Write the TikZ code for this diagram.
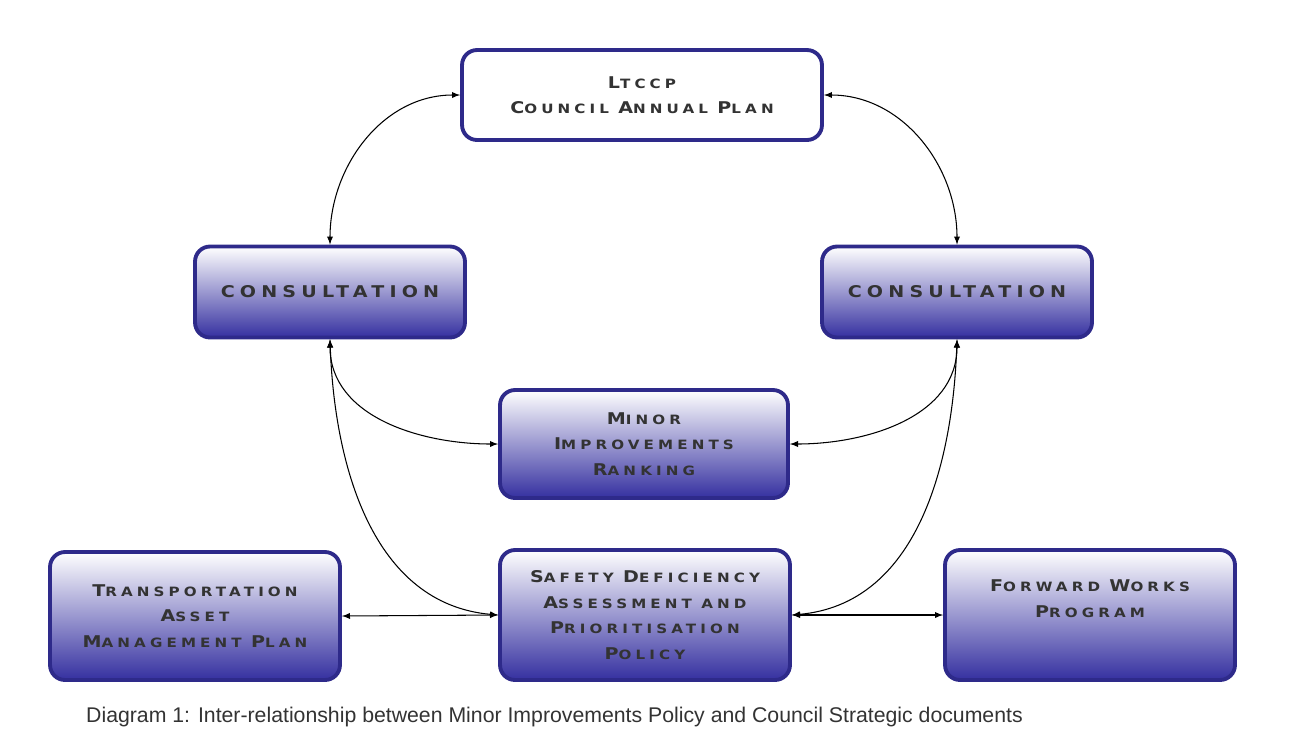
\documentclass[tikz,border=0pt]{standalone}
\usepackage{fontspec}
\setmainfont{Liberation Sans}
\newfontfamily\boxfont[LetterSpace=32,FakeStretch=1.18]{DejaVu Sans Bold}
\definecolor{boxline}{HTML}{2E2A8A}
\definecolor{boxblue}{HTML}{3530A0}
\definecolor{captxt}{HTML}{333333}
% first letter large, rest as small capitals
\newcommand{\capw}[2]{{\fontsize{9.2}{14.5}\selectfont #1}#2}

\begin{document}
\begin{tikzpicture}[>=latex, x=0.02cm, y=-0.02cm,
  planbox/.style={draw=boxline, line width=2.2pt, rounded corners=0.3cm,
    align=center, inner sep=0pt, text=black!80,
    font={\boxfont\fontsize{7.3}{14.5}\selectfont}},
  shadebox/.style={planbox, top color=white, middle color=boxblue!9, bottom color=boxblue},
  link/.style={<->, line width=0.6pt}]
\useasboundingbox (0,0) rectangle (1290,748);

\node[planbox, fill=white, minimum width=7.2cm, minimum height=1.8cm] (ltccp) at (642,95)
  {\capw{L}{TCCP}\\\capw{C}{OUNCIL} \capw{A}{NNUAL} \capw{P}{LAN}};
\node[shadebox, minimum width=5.4cm, minimum height=1.82cm] (consl) at (330,292)
  {\fontsize{9.2}{14.5}\selectfont CONSULTATION};
\node[shadebox, minimum width=5.4cm, minimum height=1.82cm] (consr) at (957,292)
  {\fontsize{9.2}{14.5}\selectfont CONSULTATION};
\node[shadebox, minimum width=5.76cm, minimum height=2.16cm] (minor) at (644,444)
  {\capw{M}{INOR}\\\capw{I}{MPROVEMENTS}\\\capw{R}{ANKING}};
\node[shadebox, minimum width=5.8cm, minimum height=2.56cm] (tamp) at (195,616)
  {\capw{T}{RANSPORTATION}\\\capw{A}{SSET}\\\capw{M}{ANAGEMENT} \capw{P}{LAN}};
\node[shadebox, minimum width=5.8cm, minimum height=2.6cm] (safety) at (645,615)
  {\capw{S}{AFETY} \capw{D}{EFICIENCY}\\\capw{A}{SSESSMENT AND}\\\capw{P}{RIORITISATION}\\\capw{P}{OLICY}};
\node[shadebox, minimum width=5.8cm, minimum height=2.6cm] (fwp) at (1090,615)
  {\capw{F}{ORWARD} \capw{W}{ORKS}\\\capw{P}{ROGRAM}\\[4pt]\mbox{}};

\draw[link] (ltccp.west) to[out=180, in=90] (consl.north);
\draw[link] (ltccp.east) to[out=0, in=90] (consr.north);
\draw[link] (consl.south) to[out=-90, in=180] (minor.west);
\draw[link] (consr.south) to[out=-90, in=0] (minor.east);
\draw[link] (consl.south) to[out=-88, in=175] (safety.west);
\draw[link] (consr.south) to[out=-92, in=5] (safety.east);
\draw[link] (tamp.east) -- (safety.west);
\draw[link] (safety.east) -- (fwp.west);

\node[anchor=west, text=captxt, font=\fontsize{12.1}{13}\selectfont] (caption) at (80,717)
  {Diagram 1: Inter-relationship between Minor Improvements Policy and Council Strategic documents};
\end{tikzpicture}
\end{document}
